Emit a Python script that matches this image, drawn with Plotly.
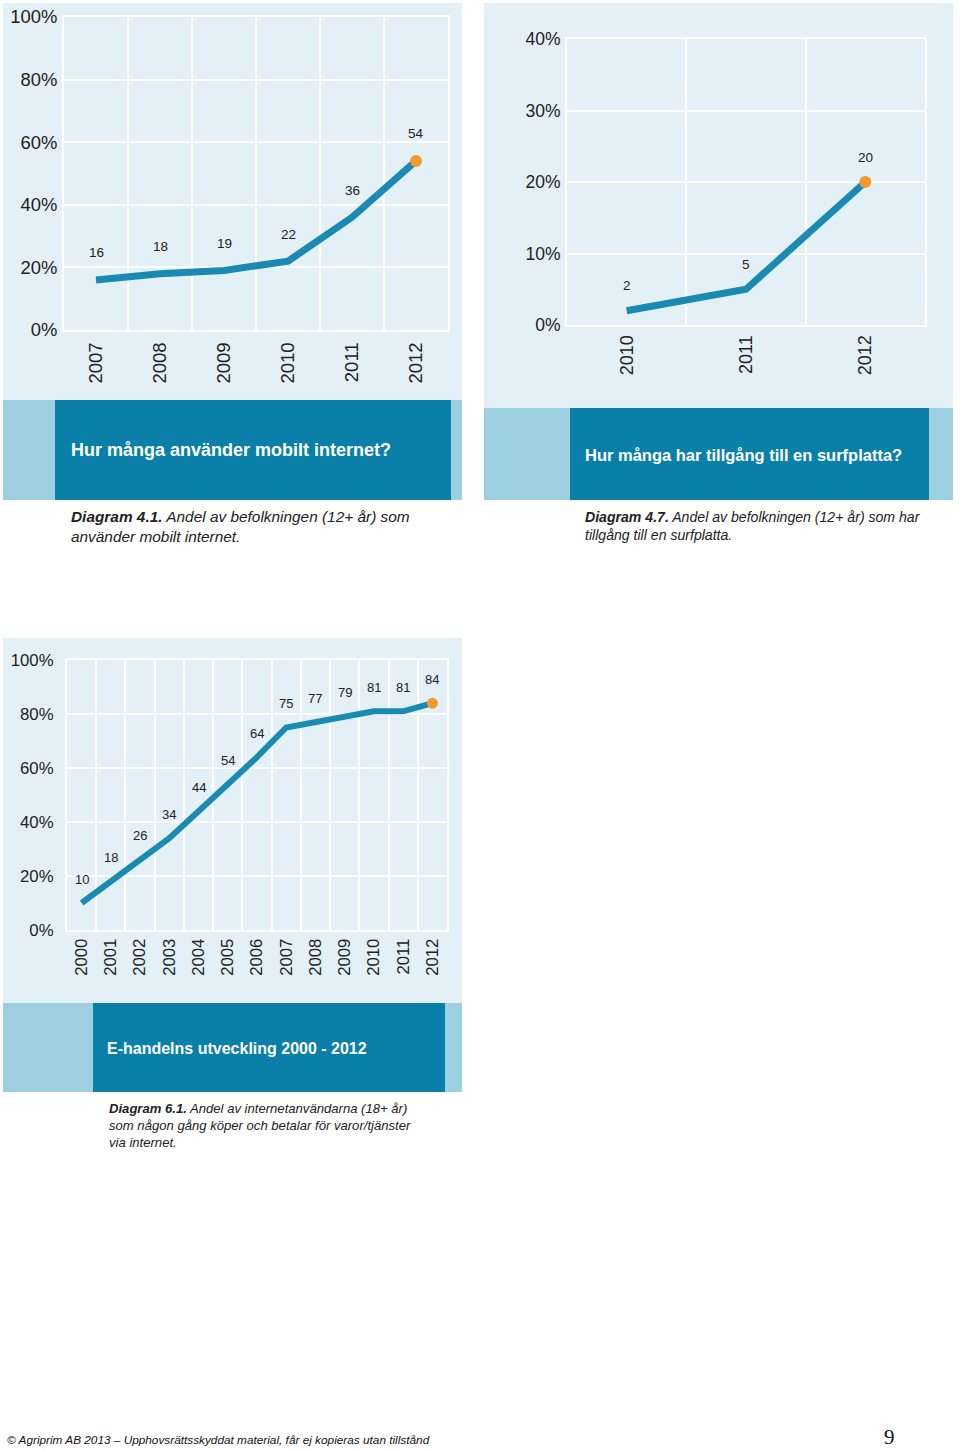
import plotly.graph_objects as go

W, H = 960, 1450

# ---- data ----
years_mobile = ["2007", "2008", "2009", "2010", "2011", "2012"]
mobile_pct = [16, 18, 19, 22, 36, 54]

years_tablet = ["2010", "2011", "2012"]
tablet_pct = [2, 5, 20]

years_ecom = ["2000", "2001", "2002", "2003", "2004", "2005", "2006",
              "2007", "2008", "2009", "2010", "2011", "2012"]
ecom_pct = [10, 18, 26, 34, 44, 54, 64, 75, 77, 79, 81, 81, 84]

titles = ["Hur många använder mobilt internet?",
          "Hur många har tillgång till en surfplatta?",
          "E-handelns utveckling 2000 - 2012"]
captions = [
    "<b><i>Diagram 4.1.</i></b><i> Andel av befolkningen (12+ år) som<br>använder mobilt internet.</i>",
    "<b><i>Diagram 4.7.</i></b><i> Andel av befolkningen (12+ år) som har<br>tillgång till en surfplatta.</i>",
    "<b><i>Diagram 6.1.</i></b><i> Andel av internetanvändarna (18+ år)<br>som någon gång köper och betalar för varor/tjänster<br>via internet.</i>",
]
footer = "© Agriprim AB 2013 – Upphovsrättsskyddat material, får ej kopieras utan tillstånd"
page_no = "9"

# ---- style ----
FONT = "Liberation Sans, Arial, sans-serif"
PANEL = "#e3f0f6"
STRIP = "#9ccfe0"
DARK = "#0a80a9"
LINE = "#1a8ab3"
ORANGE = "#f29b2c"
TXT = "#222222"


def px(x):
    return x / W


def py(y):
    return 1 - y / H


fig = go.Figure()
shapes = []
annotations = []


def rect(x0, y0, x1, y1, color):
    shapes.append(dict(type="rect", xref="paper", yref="paper",
                       x0=px(x0), x1=px(x1), y0=py(y1), y1=py(y0),
                       fillcolor=color, line=dict(width=0), layer="below"))


charts = [
    dict(cats=years_mobile, vals=mobile_pct, ymax=100, dtick=20,
         dom=(64, 448, 17, 330), panel=(3, 3, 462, 400), strip=(3, 400, 462, 500),
         dark=(55, 451), title_xy=(69, 450), title_size=18,
         cap_xy=(69, 506), cap_size=15.4, ytick=18.4, xtick=18.5, lab=13.5, lw=7, ms=12,
         yshift=27, ystand=1, xstand=3),
    dict(cats=years_tablet, vals=tablet_pct, ymax=40, dtick=10,
         dom=(567, 925, 39, 325), panel=(484, 3, 953, 408), strip=(484, 408, 953, 500),
         dark=(570, 929), title_xy=(583, 455), title_size=16.5,
         cap_xy=(583, 507), cap_size=14.1, ytick=17.5, xtick=18, lab=13.5, lw=7, ms=12,
         yshift=25, ystand=1, xstand=1),
    dict(cats=years_ecom, vals=ecom_pct, ymax=100, dtick=20,
         dom=(67, 447, 660, 930), panel=(3, 638, 462, 1003), strip=(3, 1003, 462, 1092),
         dark=(93, 445), title_xy=(105, 1048), title_size=16,
         cap_xy=(107, 1099), cap_size=13.1, ytick=16.8, xtick=16.7, lab=13, lw=6, ms=11,
         yshift=24, ystand=8, xstand=0),
]

for i, c in enumerate(charts, start=1):
    xa = "x" if i == 1 else f"x{i}"
    ya = "y" if i == 1 else f"y{i}"
    xl = "xaxis" if i == 1 else f"xaxis{i}"
    yl = "yaxis" if i == 1 else f"yaxis{i}"

    # panels
    p = c["panel"]
    rect(p[0], p[1], p[2], p[3], PANEL)
    s = c["strip"]
    rect(s[0], s[1], s[2], s[3], STRIP)
    rect(c["dark"][0], s[1], c["dark"][1], s[3], DARK)

    # line + final marker
    fig.add_trace(go.Scatter(x=c["cats"], y=c["vals"], mode="lines",
                             line=dict(color=LINE, width=c["lw"]),
                             xaxis=xa, yaxis=ya, showlegend=False, hoverinfo="skip"))
    fig.add_trace(go.Scatter(x=[c["cats"][-1]], y=[c["vals"][-1]], mode="markers",
                             marker=dict(color=ORANGE, size=c["ms"]),
                             xaxis=xa, yaxis=ya, showlegend=False, hoverinfo="skip"))

    # value labels (category index positions)
    for k, v in enumerate(c["vals"]):
        annotations.append(dict(x=k, y=v, xref=xa, yref=ya, text=str(v),
                                showarrow=False, yshift=c["yshift"],
                                font=dict(family=FONT, size=c["lab"], color=TXT)))

    d = c["dom"]
    fig.update_layout(**{
        xl: dict(domain=[px(d[0]), px(d[1])], anchor=ya, type="category",
                 range=[-0.5, len(c["cats"]) - 0.5], tickson="boundaries",
                 showgrid=True, gridcolor="white", gridwidth=2,
                 showline=True, linecolor="white", linewidth=2, mirror=True,
                 ticks="", tickangle=-90, ticklabelstandoff=c["xstand"],
                 tickfont=dict(family=FONT, size=c["xtick"], color=TXT),
                 automargin=False, fixedrange=True),
        yl: dict(domain=[py(d[3]), py(d[2])], anchor=xa, range=[0, c["ymax"]],
                 dtick=c["dtick"], tick0=0, ticksuffix="%",
                 showgrid=True, gridcolor="white", gridwidth=2, zeroline=False,
                 showline=True, linecolor="white", linewidth=2, mirror=True,
                 ticks="", ticklabelstandoff=c["ystand"],
                 tickfont=dict(family=FONT, size=c["ytick"], color=TXT),
                 automargin=False, fixedrange=True),
    })

    tx, ty = c["title_xy"]
    annotations.append(dict(x=px(tx), y=py(ty), xref="paper", yref="paper",
                            xanchor="left", yanchor="middle", showarrow=False,
                            text=f"<b>{titles[i-1]}</b>",
                            font=dict(family=FONT, size=c["title_size"], color="white")))
    cx, cy = c["cap_xy"]
    annotations.append(dict(x=px(cx), y=py(cy), xref="paper", yref="paper",
                            xanchor="left", yanchor="top", align="left", showarrow=False,
                            text=captions[i-1],
                            font=dict(family=FONT, size=c["cap_size"], color=TXT)))

# footer
annotations.append(dict(x=px(5), y=py(1440), xref="paper", yref="paper",
                        xanchor="left", yanchor="middle", showarrow=False,
                        text=f"<i>{footer}</i>",
                        font=dict(family=FONT, size=11.8, color="#111")))
annotations.append(dict(x=px(889), y=py(1437), xref="paper", yref="paper",
                        xanchor="center", yanchor="middle", showarrow=False,
                        text=page_no,
                        font=dict(family="Liberation Serif, serif", size=21, color="#111")))

fig.update_layout(width=W, height=H,
                  margin=dict(l=0, r=0, t=0, b=0, pad=0, autoexpand=False),
                  paper_bgcolor="white", plot_bgcolor=PANEL,
                  shapes=shapes, annotations=annotations, showlegend=False,
                  font=dict(family=FONT, color=TXT))

post = ("document.body.style.margin='0';"
        "document.documentElement.style.margin='0';"
        "var gd=document.getElementById('{plot_id}');"
        "gd.style.position='absolute';gd.style.left='0px';gd.style.top='0px';")

fig.write_html("out.html", config={"displayModeBar": False}, post_script=post)
